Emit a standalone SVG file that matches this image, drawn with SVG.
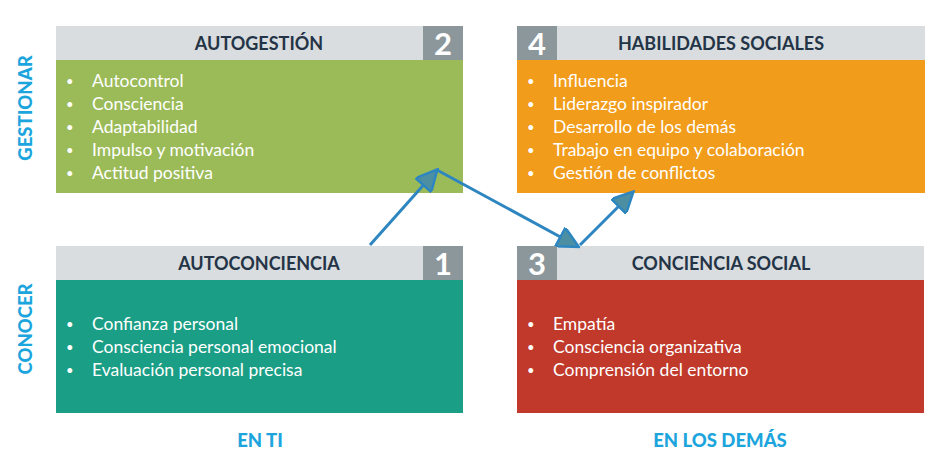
<svg xmlns="http://www.w3.org/2000/svg" width="949" height="466" viewBox="0 0 949 466">
<defs>
<style>
.hdr{fill:#d9dddf}
.num{fill:#8c979c}
.numt{font-family:Lato,"Liberation Sans",sans-serif;font-weight:bold;font-size:31px;fill:#fff;text-anchor:middle}
.title{font-family:Lato,"Liberation Sans",sans-serif;font-weight:bold;font-size:18px;fill:#243447;text-anchor:middle}
.item{font-family:Lato,"Liberation Sans",sans-serif;font-size:17.5px;fill:#fff}
.item .b{font-size:13px}
.side{font-family:Lato,"Liberation Sans",sans-serif;font-weight:900;font-size:18.5px;fill:#1ca5dd;text-anchor:middle}
.conn{fill:none;stroke:#2e86c1;stroke-width:3}
</style>
<marker id="ah" viewBox="0 0 10 10" refX="9" refY="5" markerWidth="8" markerHeight="7" markerUnits="strokeWidth" orient="auto">
<path d="M0,0 L10,5 L0,10 z" fill="#4d8fa2" stroke="#2e86c1" stroke-width="1.2"/>
</marker>
</defs>
<rect width="949" height="466" fill="#fff"/>

<g id="n2">
<rect class="hdr" x="56" y="26" width="407" height="34"/>
<rect class="num" x="423" y="26" width="40" height="34"/>
<text class="numt" x="443" y="55">2</text>
<text class="title" x="259" y="50">AUTOGESTIÓN</text>
<rect x="56" y="60" width="407" height="133" fill="#9bbb59"/>
<g class="item">
<text class="b" x="66" y="86">•</text><text x="92" y="87">Autocontrol</text>
<text class="b" x="66" y="109">•</text><text x="92" y="110">Consciencia</text>
<text class="b" x="66" y="132">•</text><text x="92" y="133">Adaptabilidad</text>
<text class="b" x="66" y="155">•</text><text x="92" y="156">Impulso y motivación</text>
<text class="b" x="66" y="178">•</text><text x="92" y="179">Actitud positiva</text>
</g>
</g>

<g id="n4">
<rect class="hdr" x="517" y="26" width="408" height="34"/>
<rect class="num" x="517" y="26" width="40" height="34"/>
<text class="numt" x="537" y="55">4</text>
<text class="title" x="721" y="50">HABILIDADES SOCIALES</text>
<rect x="517" y="60" width="408" height="133" fill="#f19c1a"/>
<g class="item">
<text class="b" x="527" y="86">•</text><text x="553" y="87">Influencia</text>
<text class="b" x="527" y="109">•</text><text x="553" y="110">Liderazgo inspirador</text>
<text class="b" x="527" y="132">•</text><text x="553" y="133">Desarrollo de los demás</text>
<text class="b" x="527" y="155">•</text><text x="553" y="156">Trabajo en equipo y colaboración</text>
<text class="b" x="527" y="178">•</text><text x="553" y="179">Gestión de conflictos</text>
</g>
</g>

<g id="n1">
<rect class="hdr" x="56" y="246" width="407" height="34"/>
<rect class="num" x="423" y="246" width="40" height="34"/>
<text class="numt" x="443" y="275">1</text>
<text class="title" x="259" y="270">AUTOCONCIENCIA</text>
<rect x="56" y="280" width="407" height="133" fill="#1a9e85"/>
<g class="item">
<text class="b" x="66" y="329">•</text><text x="92" y="330">Confianza personal</text>
<text class="b" x="66" y="352">•</text><text x="92" y="353">Consciencia personal emocional</text>
<text class="b" x="66" y="375">•</text><text x="92" y="376">Evaluación personal precisa</text>
</g>
</g>

<g id="n3">
<rect class="hdr" x="517" y="246" width="407" height="34"/>
<rect class="num" x="517" y="246" width="40" height="34"/>
<text class="numt" x="537" y="275">3</text>
<text class="title" x="721" y="270">CONCIENCIA SOCIAL</text>
<rect x="517" y="280" width="407" height="133" fill="#c0392b"/>
<g class="item">
<text class="b" x="527" y="329">•</text><text x="553" y="330">Empatía</text>
<text class="b" x="527" y="352">•</text><text x="553" y="353">Consciencia organizativa</text>
<text class="b" x="527" y="375">•</text><text x="553" y="376">Comprensión del entorno</text>
</g>
</g>

<g id="labels">
<text class="side" transform="translate(32,108) rotate(-90)">GESTIONAR</text>
<text class="side" transform="translate(32,329) rotate(-90)">CONOCER</text>
<text class="side" x="260" y="447">EN TI</text>
<text class="side" x="720" y="447">EN LOS DEMÁS</text>
</g>

<g id="connectors">
<path class="conn" d="M370,245 L436,171" marker-end="url(#ah)"/>
<path class="conn" d="M437,170 L577,246" marker-end="url(#ah)"/>
<path class="conn" d="M580,245 L632,193" marker-end="url(#ah)"/>
</g>
</svg>
